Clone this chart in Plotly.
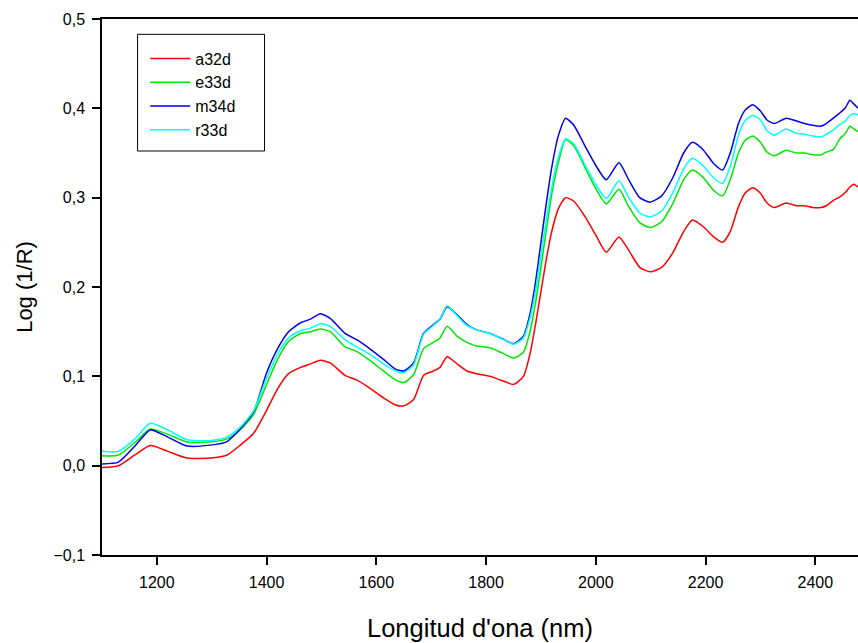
import plotly.graph_objects as go

wavelength = [1100, 1130, 1160, 1188, 1220, 1255, 1297, 1328, 1350, 1376, 1400, 1420, 1440, 1462,
              1480, 1498, 1516, 1543, 1564, 1590, 1613, 1635, 1650, 1668, 1686, 1704, 1716, 1729,
              1747, 1765, 1783, 1807, 1830, 1850, 1868, 1880, 1890, 1900, 1910, 1920, 1932, 1945,
              1960, 1980, 2000, 2019, 2042, 2060, 2080, 2099, 2120, 2140, 2160, 2176, 2195, 2215,
              2231, 2245, 2260, 2272, 2286, 2300, 2312, 2325, 2347, 2365, 2380, 2395, 2410, 2420,
              2433, 2445, 2455, 2463, 2470, 2478]

a32d = [-0.002, 0.000, 0.012, 0.0225, 0.016, 0.0085, 0.0085, 0.012, 0.022, 0.036, 0.062, 0.086,
        0.103, 0.110, 0.114, 0.118, 0.115, 0.101, 0.096, 0.086, 0.076, 0.068, 0.067, 0.074, 0.101,
        0.106, 0.110, 0.122, 0.114, 0.106, 0.103, 0.100, 0.095, 0.091, 0.100, 0.125, 0.158, 0.195,
        0.232, 0.263, 0.288, 0.300, 0.296, 0.279, 0.258, 0.239, 0.256, 0.241, 0.222, 0.217, 0.222,
        0.238, 0.262, 0.275, 0.268, 0.256, 0.250, 0.262, 0.290, 0.305, 0.311, 0.305, 0.294, 0.289,
        0.294, 0.291, 0.291, 0.289, 0.289, 0.291, 0.297, 0.301, 0.306, 0.312, 0.315, 0.312]

e33d = [0.011, 0.012, 0.026, 0.041, 0.035, 0.0265, 0.0265, 0.030, 0.039, 0.057, 0.091, 0.119,
        0.139, 0.148, 0.150, 0.153, 0.150, 0.133, 0.128, 0.117, 0.106, 0.096, 0.093, 0.102, 0.131,
        0.138, 0.143, 0.156, 0.145, 0.138, 0.134, 0.132, 0.126, 0.1205, 0.127, 0.150, 0.182, 0.222,
        0.265, 0.305, 0.340, 0.365, 0.358, 0.334, 0.310, 0.293, 0.3095, 0.290, 0.272, 0.2666, 0.273,
        0.293, 0.320, 0.331, 0.323, 0.308, 0.302, 0.320, 0.350, 0.364, 0.369, 0.362, 0.351, 0.347,
        0.353, 0.350, 0.350, 0.348, 0.348, 0.351, 0.354, 0.366, 0.372, 0.380, 0.377, 0.374]

m34d = [0.002, 0.004, 0.022, 0.040, 0.032, 0.022, 0.023, 0.027, 0.040, 0.060, 0.104, 0.131,
        0.150, 0.160, 0.164, 0.170, 0.165, 0.148, 0.141, 0.130, 0.119, 0.108, 0.106, 0.115, 0.148,
        0.158, 0.164, 0.178, 0.169, 0.158, 0.152, 0.148, 0.142, 0.1365, 0.145, 0.170, 0.205, 0.250,
        0.295, 0.335, 0.370, 0.389, 0.381, 0.358, 0.336, 0.320, 0.339, 0.320, 0.300, 0.295, 0.302,
        0.322, 0.350, 0.362, 0.354, 0.338, 0.331, 0.350, 0.383, 0.398, 0.404, 0.397, 0.387, 0.383,
        0.389, 0.386, 0.383, 0.381, 0.380, 0.383, 0.389, 0.395, 0.401, 0.409, 0.405, 0.400]

r33d = [0.016, 0.016, 0.030, 0.0475, 0.040, 0.029, 0.028, 0.032, 0.042, 0.061, 0.098, 0.125,
        0.143, 0.151, 0.154, 0.159, 0.156, 0.141, 0.133, 0.124, 0.114, 0.106, 0.104, 0.113, 0.147,
        0.157, 0.164, 0.179, 0.168, 0.157, 0.152, 0.148, 0.142, 0.136, 0.143, 0.165, 0.195, 0.235,
        0.276, 0.313, 0.346, 0.366, 0.360, 0.337, 0.315, 0.299, 0.319, 0.300, 0.283, 0.2785, 0.285,
        0.305, 0.332, 0.344, 0.336, 0.322, 0.316, 0.335, 0.370, 0.386, 0.392, 0.387, 0.375, 0.370,
        0.377, 0.372, 0.371, 0.369, 0.368, 0.371, 0.376, 0.382, 0.386, 0.392, 0.394, 0.393]

series_names = ["a32d", "e33d", "m34d", "r33d"]
series_values = [a32d, e33d, m34d, r33d]
series_colors = ["#ff0000", "#00e600", "#0000ee", "#00ffff"]

x_ticks = [1200, 1400, 1600, 1800, 2000, 2200, 2400]
y_ticks = [-0.1, 0.0, 0.1, 0.2, 0.3, 0.4, 0.5]

FONT = "Liberation Sans, Arial, sans-serif"

# the page body margin is removed (post_script), so figure coordinates equal screen coordinates
W, H = 858, 643
L, R, T, B = 101.7, 858, 19, 555
PW, PH = R - L, B - T

fig = go.Figure()
for name, vals, col in zip(series_names, series_values, series_colors):
    fig.add_trace(go.Scatter(x=wavelength, y=vals, name=name, mode="lines",
                             line=dict(color=col, width=1.5, shape="spline", smoothing=0.6)))

fig.update_layout(
    width=W, height=H,
    margin=dict(l=L, r=W - R, t=T, b=H - B, pad=0, autoexpand=False),
    paper_bgcolor="white", plot_bgcolor="white",
    separators=",.",
    font=dict(family=FONT, color="black"),
    showlegend=True,
    legend=dict(x=(145 - L) / PW, y=(B - 41.5) / PH, xanchor="left", yanchor="top",
                bgcolor="rgba(0,0,0,0)", borderwidth=0,
                font=dict(size=16, family=FONT), itemwidth=40, tracegroupgap=0),
    shapes=[dict(type="rect", xref="paper", yref="paper",
                 x0=(137.3 - L) / PW, x1=(264.3 - L) / PW,
                 y0=(B - 151) / PH, y1=(B - 34.3) / PH,
                 line=dict(color="black", width=1), fillcolor="rgba(0,0,0,0)")],
)

fig.update_xaxes(range=[1100, 2477.8], tickvals=x_ticks, tickformat="d", automargin=False,
                 showline=True, linecolor="black", linewidth=1.5, mirror=True,
                 ticks="outside", ticklen=8, tickwidth=1.5, tickcolor="black",
                 ticklabelstandoff=4,
                 showgrid=False, zeroline=False,
                 tickfont=dict(size=16, family=FONT),
                 title=dict(text="Longitud d'ona (nm)", font=dict(size=25.5, family=FONT), standoff=29))
fig.update_yaxes(range=[-0.1, 0.5], tickvals=y_ticks, tickformat=".1f", automargin=False,
                 showline=True, linecolor="black", linewidth=1.5,
                 ticks="outside", ticklen=8, tickwidth=1.5, tickcolor="black",
                 ticklabelstandoff=4,
                 showgrid=False, zeroline=False,
                 tickfont=dict(size=16, family=FONT),
                 title=dict(text="Log (1/R)", font=dict(size=22, family=FONT), standoff=15))

fig.write_html("out.html", config={"displayModeBar": False},
               post_script="document.body.style.margin='0';document.body.style.overflow='hidden';")
